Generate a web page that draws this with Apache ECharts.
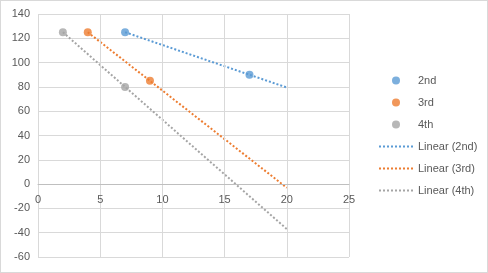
<!DOCTYPE html>
<html><head><meta charset="utf-8">
<script src="https://cdn.jsdelivr.net/npm/echarts@6/dist/echarts.min.js"></script>
<style>html,body{margin:0;padding:0;background:#fff}#c{width:486px;height:271px;border:1px solid #d9d9d9}</style>
</head><body><div id="c"></div>
<script>
const xTicks = [0, 5, 10, 15, 20, 25];
const yTicks = [-60, -40, -20, 0, 20, 40, 60, 80, 100, 120, 140];
const seriesNames = ['2nd', '3rd', '4th'];
const pts2nd = [[7, 125], [17, 90]];
const pts3rd = [[4, 125], [9, 85]];
const pts4th = [[2, 125], [7, 80]];
const trend2nd = [[7, 125], [20, 79.5]];
const trend3rd = [[4, 125], [20, -3]];
const trend4th = [[2, 125], [20, -37]];
const colors = ['#5B9BD5', '#ED7D31', '#A5A5A5'];

const el = document.getElementById('c');
const chart = echarts.init(el);
const font = 'Liberation Sans, Arial, sans-serif';
const pts = [pts2nd, pts3rd, pts4th];
const trends = [trend2nd, trend3rd, trend4th];
const gridTop = 13, gridBottom = 15;
const yMin = yTicks[0], yMax = yTicks[yTicks.length - 1];
const gridH = el.clientHeight - gridTop - gridBottom;
const zeroOffset = -gridH * (0 - yMin) / (yMax - yMin);
const series = [];
pts.forEach((p, i) => series.push({
  name: seriesNames[i], type: 'scatter', data: p, symbolSize: 8,
  itemStyle: {color: colors[i]}, z: 5
}));
trends.forEach((t, i) => series.push({
  name: 'Linear (' + seriesNames[i] + ')', type: 'line', data: t, symbol: 'none', showSymbol: false,
  lineStyle: {color: colors[i], width: 2, type: [2, 2]}, itemStyle: {color: colors[i]}, z: 3
}));
chart.setOption({
  animation: false,
  grid: {left: 37, right: 138, top: gridTop, bottom: gridBottom},
  xAxis: {type: 'value', min: xTicks[0], max: xTicks[xTicks.length-1], interval: 5,
    offset: zeroOffset, z: 4,
    axisLine: {onZero: false, lineStyle: {color: '#BFBFBF'}}, axisTick: {show: false},
    axisLabel: {color: '#595959', fontSize: 11, fontFamily: font, margin: 10},
    splitLine: {lineStyle: {color: '#D9D9D9'}}},
  yAxis: {type: 'value', min: yMin, max: yMax, interval: 20,
    axisLine: {show: false}, axisTick: {show: false},
    axisLabel: {color: '#595959', fontSize: 11, fontFamily: font, margin: 8},
    splitLine: {lineStyle: {color: '#D9D9D9'}}},
  legend: {orient: 'vertical', left: 372, top: 69, itemWidth: 34, itemHeight: 8, itemGap: 11,
    textStyle: {color: '#595959', fontSize: 11, fontFamily: font},
    data: series.map(s => s.type === 'line' ? {name: s.name, itemStyle: {opacity: 0}} : s.name)},
  series: series
});
</script></body></html>
